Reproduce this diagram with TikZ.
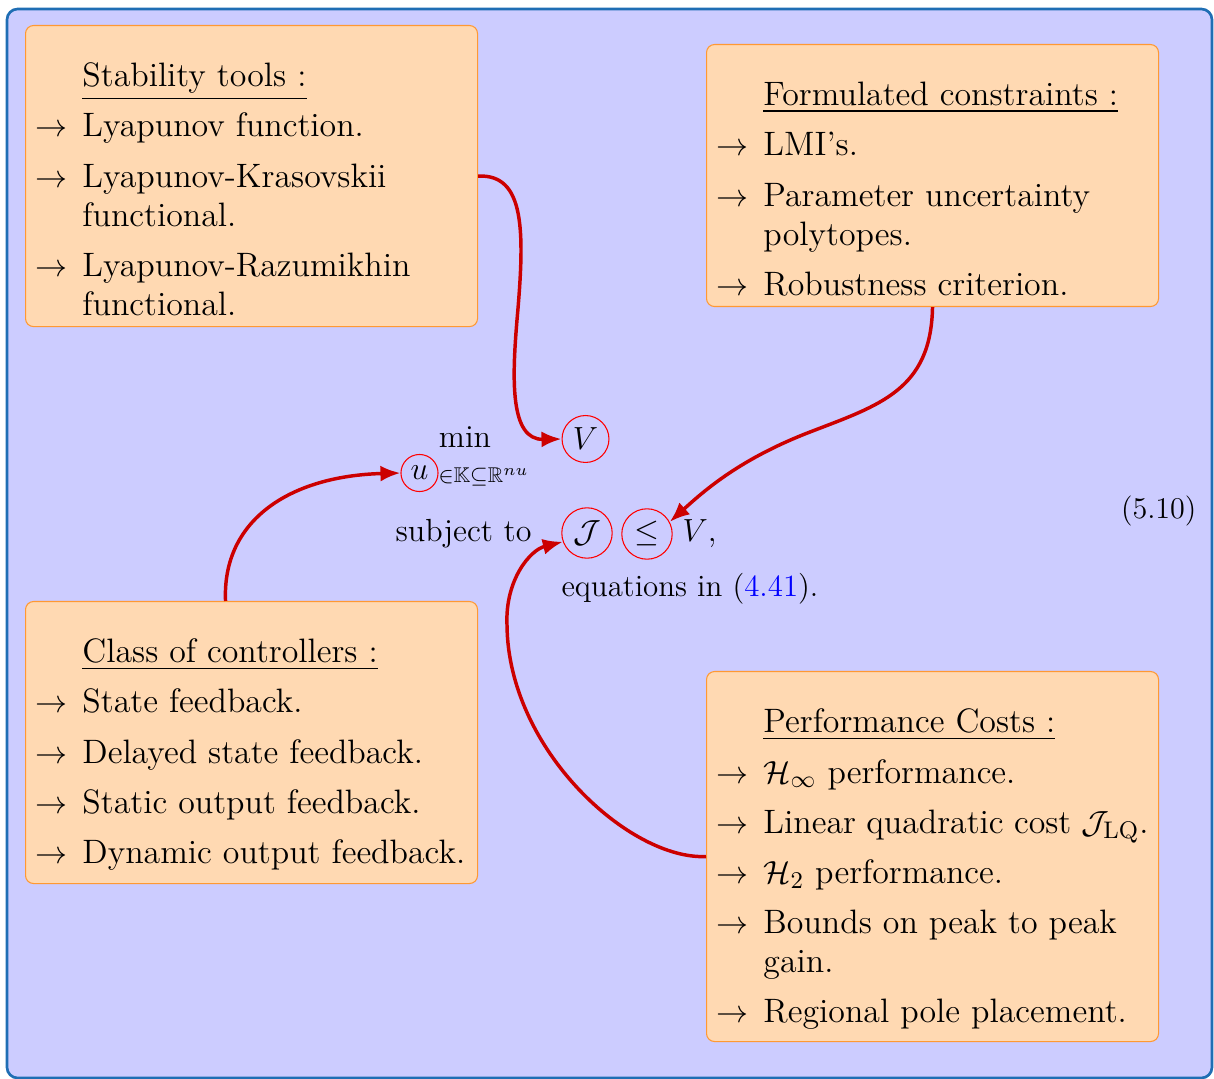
\documentclass[tikz,border=0pt]{standalone}
\usepackage{amsmath,amssymb}
\usetikzlibrary{arrows.meta}
\definecolor{frameblue}{RGB}{31,110,180}

\newcommand{\boxtitle}[1]{\noindent\hspace*{17.6pt}\rule{0pt}{23pt}\underline{#1}\par}
\newcommand{\boxitem}[1]{\hangindent=17.6pt\hangafter=1\noindent\makebox[17.6pt][l]{$\rightarrow$}#1\par}
\newcommand{\boxbody}[2]{\parbox[t][#1][t]{162pt}{\raggedright\setlength{\parskip}{4.2pt}#2}}

\tikzset{
  toolbox/.style={draw=orange!80, fill=orange!30, rounded corners=3pt, inner xsep=3.75pt, inner ysep=0pt, anchor=north west, font=\fontsize{12.7pt}{14.6pt}\selectfont},
  termring/.style={circle, draw=red, line width=0.4pt, inner sep=0pt},
  link/.style={red!80!black, line width=1.3pt, -{Latex[length=7.5pt,width=6pt]}},
}

\begin{document}
\begin{tikzpicture}[x=0.375pt, y=-0.375pt, every node/.append style={font=\fontsize{12pt}{14.5pt}\selectfont}]
\useasboundingbox (0,0) rectangle (1214,1079);
\draw [frameblue, fill=blue!20, line width=1pt, rounded corners=4pt] (7,9) rectangle (1212,1078);

\node [toolbox] (stab) at (25,25) {\boxbody{112.9pt}{%
  \boxtitle{Stability tools :}
  \boxitem{Lyapunov function.}
  \boxitem{Lyapunov-Krasovskii\newline functional.}
  \boxitem{Lyapunov-Razumikhin\newline functional.}}};
\node [toolbox] (cons) at (706,44) {\boxbody{98.25pt}{%
  \boxtitle{Formulated constraints :}
  \boxitem{LMI's.}
  \boxitem{Parameter uncertainty\newline polytopes.}
  \boxitem{Robustness criterion.}}};
\node [toolbox] (ctrl) at (25,601) {\boxbody{105.75pt}{%
  \boxtitle{Class of controllers :}
  \boxitem{State feedback.}
  \boxitem{Delayed state feedback.}
  \boxitem{Static output feedback.}
  \boxitem{Dynamic output feedback.}}};
\node [toolbox] (perf) at (706,671) {\boxbody{138.75pt}{%
  \boxtitle{Performance Costs :}
  \boxitem{$\mathcal{H}_\infty$ performance.}
  \boxitem{Linear quadratic cost $\mathcal{J}_{\mathrm{LQ}}$.}
  \boxitem{$\mathcal{H}_2$ performance.}
  \boxitem{Bounds on peak to peak\newline gain.}
  \boxitem{Regional pole placement.}}};

\node [anchor=base] (min) at (465,448) {min};
\node [termring, minimum size=13.9pt] (u) at (419.5,473) {$u$};
\node [anchor=base west, inner sep=0pt] (set) at (438,483) {$\scriptstyle\in\mathbb{K}\subseteq\mathbb{R}^{nu}$};
\node [termring, minimum size=17.6pt] (V) at (585.5,439) {$V$};
\node [anchor=base east, inner sep=0pt] (subj) at (532,542) {subject to};
\node [termring, minimum size=18.9pt] (J) at (587,533) {$\mathcal{J}$};
\node [termring, minimum size=18.9pt] (leq) at (647,534) {$\leq$};
\node [anchor=base west, inner sep=0pt] (Vr) at (682,542) {$V$,};
\node [anchor=base west, inner sep=0pt, font=\fontsize{11.6pt}{14pt}\selectfont] (eqs) at (561,597) {equations in (\textcolor{blue}{4.41}).};
\node [anchor=base east, inner sep=0pt, font=\fontsize{11.3pt}{14pt}\selectfont] (num) at (1197,519) {(5.10)};

\draw [link] (stab.east) .. controls (525,174) and (525,230) .. (517,320) .. controls (512,380) and (510,440) .. (V.west);
\draw [link] (cons.south) .. controls (931,390) and (880,405) .. (810,432) .. controls (740,459) and (705,490) .. (leq.28);
\draw [link] ([xshift=-9.75pt]ctrl.north) .. controls (222,520) and (290,476) .. (u.west);
\draw [link] (perf.west) .. controls (630,860) and (508,750) .. (507,625) .. controls (505,580) and (530,550) .. (J.200);
\end{tikzpicture}
\end{document}
